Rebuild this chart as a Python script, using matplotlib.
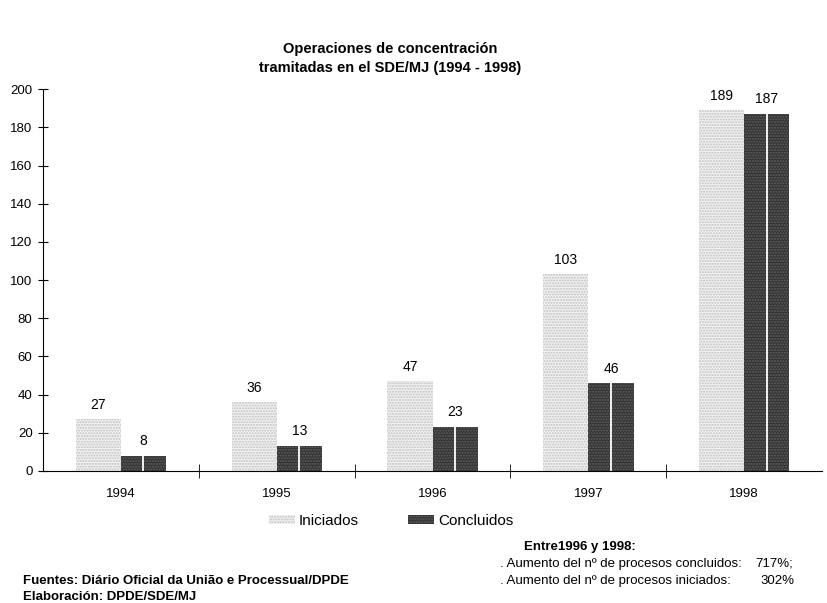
import numpy as np
import matplotlib.pyplot as plt

plt.rcParams['font.family'] = ['Liberation Sans', 'DejaVu Sans']

# data
years = ["1994", "1995", "1996", "1997", "1998"]
iniciados = [27, 36, 47, 103, 189]
concluidos = [8, 13, 23, 46, 187]

fig = plt.figure(figsize=(8.27, 6.03), dpi=100)
ax = fig.add_axes([0.052, 0.219, 0.942, 0.633])

x = np.arange(len(years))
w = 0.29

b1 = ax.bar(x - w / 2, iniciados, w, facecolor="#f2f2f2", edgecolor="#c0c0c0",
            hatch="......", linewidth=0, label="Iniciados")
b2 = ax.bar(x + w / 2, concluidos, w, facecolor="#333333", edgecolor="#606060",
            hatch="......", linewidth=0, label="Concluidos")
# thin white split line in the dark bars
ax.vlines(x + w / 2, 0, concluidos, color="white", linewidth=1.3)

for xi, v in zip(x - w / 2, iniciados):
    ax.text(xi, v + 4, str(v), ha="center", va="bottom", fontsize=10)
for xi, v in zip(x + w / 2, concluidos):
    ax.text(xi, v + 4, str(v), ha="center", va="bottom", fontsize=10)

ax.set_xlim(-0.5, 4.5)
ax.set_ylim(0, 200)
ax.set_yticks(range(0, 201, 20))
ax.tick_params(axis="y", labelsize=9.5, length=7, direction="inout", pad=4)
ax.set_xticks(x)
ax.set_xticklabels(years, fontsize=9.5)
ax.tick_params(axis="x", length=0, pad=12)
ax.set_xticks(np.arange(0.5, 4.5, 1), minor=True)
ax.tick_params(axis="x", which="minor", length=10, direction="inout")

for s in ["top", "right"]:
    ax.spines[s].set_visible(False)

fig.text(0.472, 0.903, "Operaciones de concentración\ntramitadas en el SDE/MJ (1994 - 1998)",
         ha="center", va="center", fontsize=10.5, fontweight="bold", linespacing=1.4)

fig.legend(handles=[b1, b2], loc="center", bbox_to_anchor=(0.473, 0.136), ncol=2,
           frameon=False, fontsize=11, handlelength=1.7, handleheight=0.55,
           handletextpad=0.3, columnspacing=3.2)

# notes, bottom right
fig.text(0.634, 0.093, "Entre1996 y 1998:", fontsize=9.5, fontweight="bold", va="center")
fig.text(0.604, 0.065, ". Aumento del nº de procesos concluidos:", fontsize=9.5, va="center")
fig.text(0.604, 0.036, ". Aumento del nº de procesos iniciados:", fontsize=9.5, va="center")
fig.text(0.913, 0.065, "717%;", fontsize=9.5, va="center")
fig.text(0.919, 0.036, "302%", fontsize=9.5, va="center")

# sources, bottom left
fig.text(0.028, 0.036, "Fuentes: Diário Oficial da União e Processual/DPDE", fontsize=9.5,
         fontweight="bold", va="center")
fig.text(0.028, 0.010, "Elaboración: DPDE/SDE/MJ", fontsize=9.5, fontweight="bold", va="center")

fig.savefig("out.png", dpi=100)
